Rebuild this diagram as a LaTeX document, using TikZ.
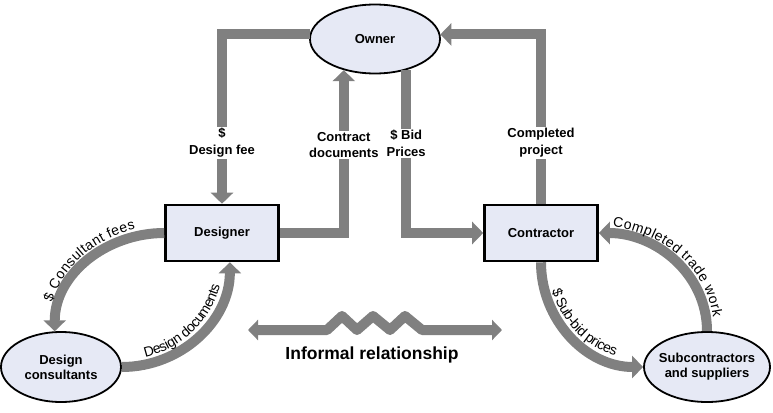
\documentclass[tikz,border=0pt]{standalone}
\usepackage{fontspec}
\setmainfont{Liberation Sans}
\usetikzlibrary{shapes.geometric, arrows.meta, decorations.text}
\definecolor{flowgray}{HTML}{808080}
\definecolor{partyfill}{HTML}{E6E9F5}
\tikzstyle{party} = [rectangle, 
minimum width=113pt, 
minimum height=56pt,
text centered, 
draw=black, 
line width=2.6pt,
fill=partyfill,
font=\fontsize{13}{15}\selectfont\bfseries]
\tikzstyle{oval} = [ellipse, 
inner xsep=-10pt,
align=center, 
draw=black, 
line width=1.8pt,
fill=partyfill,
font=\fontsize{13}{15}\selectfont\bfseries]
\tikzstyle{flow} = [draw=flowgray, line width=10pt, -{Triangle[width=22pt,length=11pt]}]
\tikzstyle{tag} = [fill=white, align=center, inner sep=1.5pt, font=\fontsize{13}{16.5}\selectfont\bfseries]
\tikzstyle{bendtag} = [decorate, decoration={text along path, text align=center, raise=7pt}]

\begin{document}
\begin{tikzpicture}[x=1pt, y=-1pt]
        \useasboundingbox (0,0) rectangle (773,412);
        \node (owner) [oval, minimum width=130pt, minimum height=69pt] at (375,39) {Owner};
        \node (designer) [party] at (222,233) {Designer};
        \node (contractor) [party] at (541,233) {Contractor};
        \node (consultants) [oval, minimum width=120pt, minimum height=70pt] at (61,367) {Design\\consultants};
        \node (subs) [oval, minimum width=126pt, minimum height=70pt] at (707,367) {Subcontractors\\and suppliers};
        \draw [flow] (owner.176) -| node [tag, pos=0.82] {\$\\Design fee} (designer.north);
        \draw [flow] (designer.east) -| node [tag, pos=0.77] {Contract\\documents} (owner.225);
        \draw [flow] (owner.315) |- node [tag, pos=0.225] {\$ Bid\\Prices} (contractor.west);
        \draw [flow] (contractor.north) |- node [tag, pos=0.18] {Completed\\project} (owner.4);
        \draw [flow] (designer.west) to [out=180, in=90] (consultants.100);
        \draw [flow] (consultants.east) to [out=0, in=270] (designer.285);
        \draw [flow] (contractor.south) to [out=270, in=180] (subs.west);
        \draw [flow] (subs.north) to [out=90, in=0] (contractor.east);
        \path [bendtag, decoration={text={|\fontsize{14}{16}\selectfont|{\$} Consultant fees}}] (consultants.100) to [out=90, in=180] (designer.west);
        \path [bendtag, decoration={text={|\fontsize{14}{16}\selectfont|Design documents}}] (consultants.east) to [out=0, in=270] (designer.285);
        \path [bendtag, decoration={text={|\fontsize{14}{16}\selectfont|{\$} Sub-bid prices}}] (contractor.south) to [out=270, in=180] (subs.west);
        \path [bendtag, decoration={text={|\fontsize{14}{16}\selectfont|Completed trade work}}] (contractor.east) to [out=0, in=90] (subs.north);
        \coordinate (infleft) at (248,330);
        \coordinate (infright) at (502,330);
        \draw [flow, line join=round, {Triangle[width=20pt,length=10pt]}-{Triangle[width=20pt,length=10pt]}] (infleft) -- (327,330) -- (342,316) -- (357,330) -- (373,316) -- (390,330) -- (405,316) -- (422,330) -- (infright);
        \node (informal) [font=\fontsize{17.5}{20}\selectfont\bfseries] at (372,355) {Informal relationship};
    \end{tikzpicture}
\end{document}
